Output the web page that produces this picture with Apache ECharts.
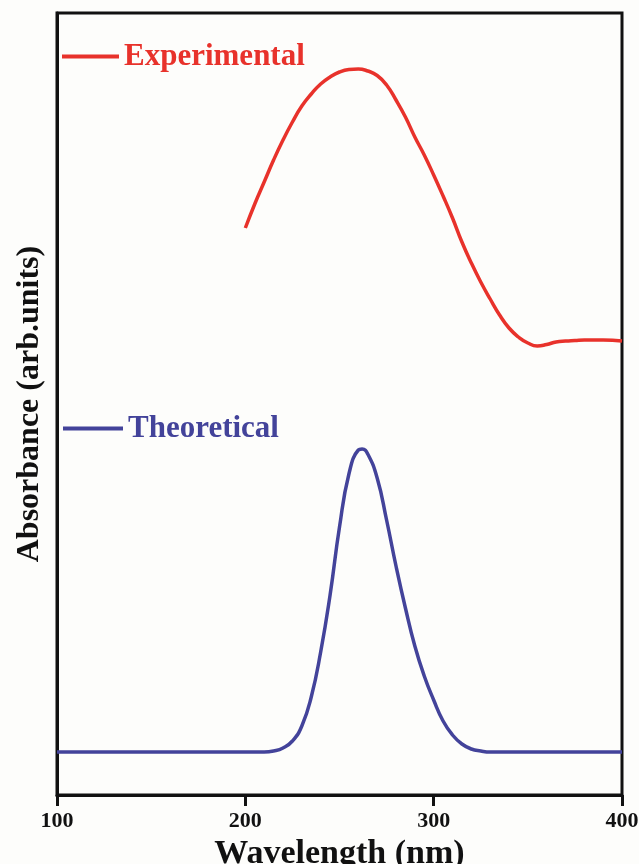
<!DOCTYPE html>
<html>
<head>
<meta charset="utf-8">
<script src="https://cdn.jsdelivr.net/npm/echarts@6/dist/echarts.min.js"></script>
<style>
html,body{margin:0;padding:0;background:#fdfdfb;}
#chart{width:639px;height:864px;}
</style>
</head>
<body>
<div id="chart"></div>
<script>
var xTicks = [100, 200, 300, 400];

var expWavelength = [200, 205, 210, 215, 220, 225, 230, 235, 240, 245, 250, 255, 260, 265, 270, 275, 280, 285, 290, 295, 300, 305, 310, 315, 320, 325, 330, 335, 340, 345, 350, 355, 360, 365, 370, 375, 380, 390, 400];
var expAbsorbance = [572, 596, 618, 640, 660, 678, 694, 706, 716, 723, 728, 730.5, 731, 729, 724.5, 715, 700, 683, 663, 645, 625, 604, 582, 558, 537, 518, 501, 485, 472, 463, 457, 454, 455.5, 458, 459, 459.5, 460, 460, 459];

var theoWavelength = [100, 150, 200, 210, 215, 220, 225, 230, 235, 240, 245, 250, 255, 260, 262, 265, 270, 275, 280, 285, 290, 295, 300, 305, 310, 315, 320, 325, 330, 340, 360, 400];
var theoAbsorbance = [48, 48, 48, 48, 49, 52, 59, 74, 103, 148, 205, 273, 326, 350, 351, 346, 322, 280, 234, 192, 154, 124, 100, 79, 65, 56, 51, 49, 48, 48, 48, 48];

function pairs(xs, ys) { return xs.map(function (x, i) { return [x, ys[i]]; }); }

var serif = "'Liberation Serif', 'Times New Roman', serif";
var chart = echarts.init(document.getElementById('chart'), null, {renderer: 'canvas'});
chart.setOption({
  backgroundColor: '#fdfdfb',
  animation: false,
  grid: {left: 57, right: 17, top: 13, bottom: 69, outerBoundsMode: 'none', containLabel: false,
         show: true, borderColor: '#111', borderWidth: 3, backgroundColor: 'transparent'},
  legend: [
    {data: ['Experimental'], left: 57, top: 36, icon: 'rect', itemWidth: 57, itemHeight: 4,
     textStyle: {color: '#e8322b', fontFamily: serif, fontWeight: 'bold', fontSize: 31}},
    {data: ['Theoretical'], left: 58, top: 408, icon: 'rect', itemWidth: 60, itemHeight: 4,
     textStyle: {color: '#43439a', fontFamily: serif, fontWeight: 'bold', fontSize: 31}}
  ],
  xAxis: {
    type: 'value', min: 100, max: 400, interval: 100,
    name: 'Wavelength (nm)', nameLocation: 'middle', nameGap: 40,
    nameTextStyle: {color: '#111', fontFamily: serif, fontWeight: 'bold', fontSize: 34},
    axisLine: {show: true, lineStyle: {color: '#111', width: 3}},
    axisTick: {show: true, inside: false, length: 11, lineStyle: {color: '#111', width: 3}},
    axisLabel: {margin: 15, color: '#111', fontFamily: serif, fontWeight: 'bold', fontSize: 22,
      formatter: function (v) { return xTicks.indexOf(v) >= 0 ? String(v) : ''; }},
    splitLine: {show: false}
  },
  yAxis: {
    type: 'value', min: 5, max: 787,
    name: 'Absorbance (arb.units)', nameLocation: 'middle', nameGap: 11, nameRotate: 90,
    nameTextStyle: {color: '#111', fontFamily: serif, fontWeight: 'bold', fontSize: 32},
    axisLine: {show: true, lineStyle: {color: '#111', width: 3}},
    axisTick: {show: false}, axisLabel: {show: false}, splitLine: {show: false}
  },
  series: [
    {name: 'Experimental', type: 'line', data: pairs(expWavelength, expAbsorbance), smooth: 0.5,
     showSymbol: false, lineStyle: {color: '#e8322b', width: 3.5}, itemStyle: {color: '#e8322b'}},
    {name: 'Theoretical', type: 'line', data: pairs(theoWavelength, theoAbsorbance), smooth: 0.5,
     showSymbol: false, lineStyle: {color: '#43439a', width: 3.5}, itemStyle: {color: '#43439a'}}
  ]
});
</script>
</body>
</html>
